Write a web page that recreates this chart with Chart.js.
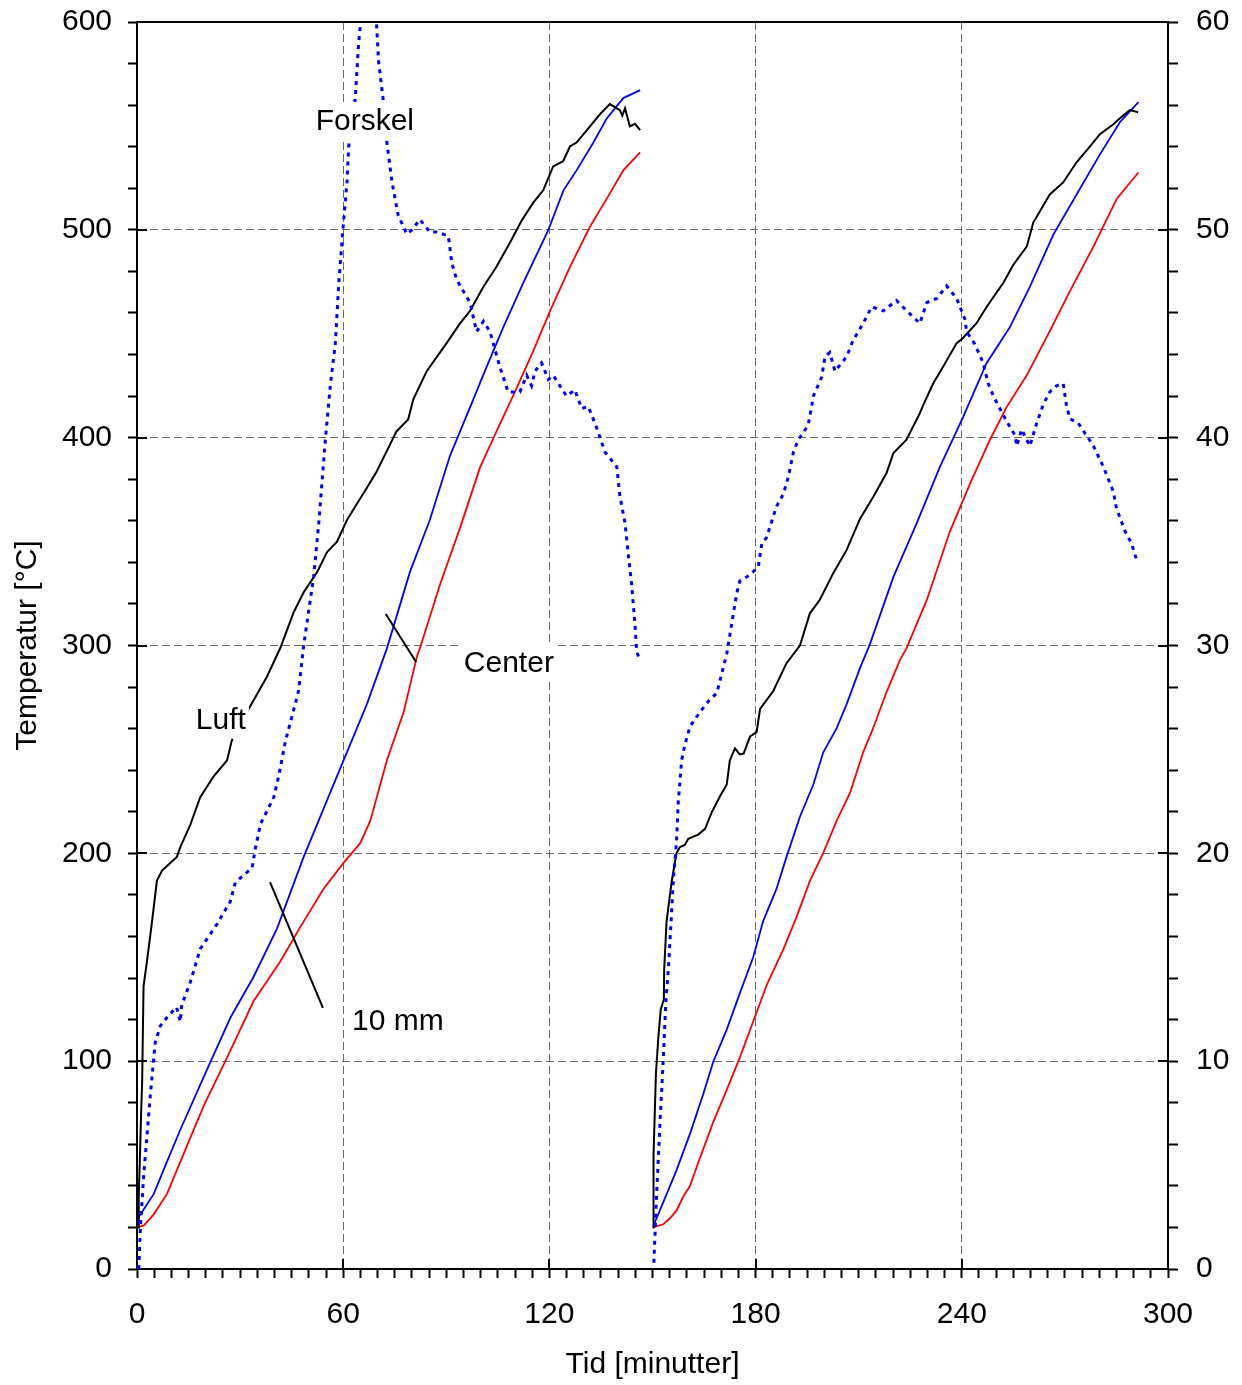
<!DOCTYPE html>
<html>
<head>
<meta charset="utf-8">
<script src="https://cdn.jsdelivr.net/npm/chart.js@4.4.1/dist/chart.umd.min.js"></script>
<style>
  html, body { margin: 0; padding: 0; background: #fff; }
  #wrap { width: 1242px; height: 1385px; position: relative; }
</style>
</head>
<body>
<div id="wrap"><canvas id="chart"></canvas></div>
<script>
// Luft (black), two tests; null = gap between tests
const luftTid = [0.3, 0.5, 0.8, 1.2, 1.5, 1.9, 2.9, 4.4, 5.8, 7.3, 9.2, 11.6, 12.6, 15.5, 18.4, 22.3, 26.2, 27.6, 32, 37.8, 41.7,
  45.6, 48.5, 52.4, 55.3, 58.2, 61.1, 64, 66.9, 69.7, 72.6, 75.5, 78.9, 80.4, 84.3, 90.1, 94, 96.9, 100.8, 104.6, 108.5,
  111.9, 115.3, 118.2, 121.1, 124, 126, 127.9, 131.8, 134.7, 137.6, 140.5, 141.2, 142, 143.4, 144.9, 146.4,
  148,
  150.2, 150.3, 151, 151.7, 152.4, 153.3, 153.4, 154.1, 155.6, 157, 158, 159.4, 160.4, 163.3, 165.3, 167.2, 169.6, 171.6,
  172.5, 174, 175.4, 176.5, 178.4, 180.3, 181.3, 185.1, 189, 192.9, 195.8, 198.7, 202.6, 206.5, 210.4, 214.3, 218.1,
  220.1, 223.9, 227.8, 228.8, 231.7, 234.6, 238.5, 240, 244.3, 247.2, 252.1, 255, 258.9, 260.8, 265.6, 269.5, 273.4,
  277.3, 280.2, 284.1, 286, 288.9, 291.3];
const luftTemp = [20, 35, 51, 75, 90, 136, 148, 167.5, 186.9, 191.7, 194.6, 198.3, 203, 213.7, 227, 237, 244.7, 254.4, 268, 285, 298.8,
  316, 325.6, 335.3, 345, 350, 360.4, 368.2, 375.9, 383.6, 393.3, 403, 408.8, 418.4, 432, 445.5, 455, 461, 472.6, 482.2, 493.8,
  504.4, 513.1, 519, 530.5, 533, 540.2, 542, 549.8, 555.6, 560.5, 557.6, 555, 558.5, 549.8, 551, 548,
  null,
  20, 55, 94, 111.4, 124.9, 129.7, 144.2, 167.4, 186.7, 200.2, 203, 204, 207, 209, 211.8, 219.6, 227.3, 233.1,
  244.7, 250.5, 247.6, 248, 256.3, 258.3, 269.5, 278, 291.5, 300, 315.5, 322, 334.8, 346, 361, 371.7, 383,
  392.6, 399, 411.8, 415.8, 426.2, 434.2, 445.5, 447.4, 455.1, 462.9, 474.5, 483.2, 491.9, 503.5, 517, 522.8, 532.5,
  540.2, 546, 550.8, 553.7, 557.6, 556.6];

// 10 mm (blue)
const mm10Tid = [0, 0.5, 4.85, 8.7, 12.6, 20.4, 27.2, 33.9, 40.7, 48.5, 54.3, 60.1, 66.9, 72.7, 79.4, 85.2, 91.1, 96.9, 101.7,
  106.6, 112.4, 119.7, 124.1, 127.9, 132.8, 136.7, 141.5, 146.4,
  148,
  150.2, 150.7, 153.6, 157, 160.9, 164.8, 167.7, 171.6, 175.4, 179.3, 182.2, 186.1, 189, 192.9, 196.8, 199.7, 203.6, 206.5,
  210.4, 213.3, 220.1, 226.8, 233.6, 240.4, 247.2, 254, 259.8, 266.6, 273.4, 280.2, 286, 291.4];
const mm10Temp = [20, 25, 36, 51.5, 67, 96, 121, 140.5, 163.7, 198.3, 221.5, 244.7, 271.8, 298.5, 335.3, 360.4, 391.4, 414.6, 433.9,
  453.2, 474.5, 500, 519, 528.6, 542, 553.6, 563.4, 567.2,
  null,
  20, 22.5, 34, 47.6, 65, 84.3, 99.8, 115.2, 132.6, 150, 167.4, 183, 198.3, 217.6, 233.1, 248.6, 260.2, 271.8,
  289.2, 300.8, 333, 358.5, 385.8, 410, 435.8, 453.2, 472.6, 497.6, 517, 536.3, 551.8, 561.4];

// Center (red)
const centerTid = [0, 2, 4.85, 8.7, 12.6, 19.4, 26.2, 33.9, 41.7, 47.5, 54.3, 60.1, 65, 67.9, 72.7, 77.6, 81.5, 82.3, 88.2, 94,
  99.8, 104.6, 109.5, 115.3, 120.2, 126, 131.8, 136.7, 141.5, 146.4,
  148,
  150.2, 153.1, 155.1, 157, 159, 160.9, 163.8, 167.7, 171.6, 175.4, 179.3, 183.2, 188.1, 191.9, 195.8, 199.7, 203.6, 207.5,
  211.3, 214.2, 218.1, 222, 223.9, 229.8, 236.5, 242.4, 248.2, 253, 258.9, 265.6, 271.5, 278.3, 285.1, 291.4];
const centerTemp = [20, 21, 26.3, 36, 51.5, 78.5, 101.7, 128.8, 148, 164.5, 183, 195.4, 205, 215.7, 244.7, 268, 295, 298.6, 329.5, 356.6,
  385.6, 403, 420.4, 441.6, 461, 482.2, 501.5, 515, 528.6, 537.3,
  null,
  20, 21.5, 24.4, 28.2, 35, 39.9, 53.4, 70.8, 86.2, 101.7, 119.1, 136.5, 153.9, 169.3, 186.7, 200.2, 215.7, 229.2,
  248.6, 260.2, 277.6, 293, 298.6, 321.8, 354.7, 377.9, 399, 414.6, 430, 451.3, 470.6, 491.9, 515, 527.6];

// Forskel (blue dotted, right axis)
const forskelTid = [0.5, 1.0, 1.9, 3.9, 5.3, 6.8, 8.7, 11.5, 12.6, 13, 15.5, 18.4, 23.3, 27.2, 28.6, 33.5, 34.4, 35.9, 39.8, 41.2,
  43.2, 45.1, 47, 48.5, 51.4, 52.9, 54.8, 56.3, 57.7, 58.7, 59.9, 61.1, 61.6, 63.5, 64.5, 66, 67.5, 68.5, 69.5, 70.3, 71.6,
  72.7, 74.2, 76, 78.5, 80, 82.3, 85.2, 87.2, 90.6, 91.6, 93, 96.9, 98.8, 100.8, 102.7, 105.6, 108, 111.4, 113.4, 114.8,
  115.8, 117.7, 119.7, 121.1, 125, 127.4, 129.4, 131.3, 133.7, 136.2, 139.6, 140.5, 142, 143, 143.9, 144.9, 145.4, 146.3,
  148,
  150.4, 151.2, 152.2, 153.1, 153.9, 154.6, 155.3, 156.05, 157, 157.5, 158.5, 159.4, 160.9, 163.8, 166.7, 168.7, 171.6,
  174.5, 175.4, 178.4, 180.8, 181.8, 183.2, 186.1, 188.1, 189.5, 191, 192.4, 195.3, 196.3, 196.8, 199.2, 200.2, 201.6,
  203.1, 206.5, 208.4, 211.3, 213.8, 217.2, 221, 224, 227.8, 229.8, 232.7, 235.6, 238.5, 240.9, 241.4, 243.8, 246.2,
  247.7, 249.2, 253, 255.5, 256, 257.4, 259.8, 261.8, 263.7, 265.6, 267.6, 269.5, 270.5, 271.5, 273.9, 278.3, 281.2,
  284.1, 285, 287.5, 289.4, 290.9];
const forskelVal = [0, 2, 4.4, 8.4, 10.9, 11.7, 12.1, 12.6, 11.9, 12.7, 13.8, 15.4, 16.6, 17.7, 18.6, 19.3, 20.2, 21.4, 22.7, 23.7,
  25.4, 26.6, 27.8, 30, 33.3, 35.9, 39.9, 42.6, 44.5, 47.4, 50, 52.3, 54, 56.3, 59, 61.5, 62.5, 62, 60.5, 58.1, 56.3,
  54.2, 52.3, 50.7, 49.8, 50, 50.5, 49.9, 49.9, 49.7, 48.4, 47.6, 46.5, 45.1, 45.6, 45.1, 43.4, 42.2, 42.2, 43, 42.5,
  43.2, 43.6, 42.8, 43, 42, 42.3, 41.4, 41.5, 40.5, 39.3, 38.6, 37.2, 35.9, 34.3, 33, 31, 29.7, 29.3,
  null,
  0.3, 3.6, 7.1, 10, 12.9, 14.4, 16.4, 18.7, 20.6, 22.5, 24.5, 25.2, 26.1, 26.8, 27.4, 27.7, 29.6,
  32.5, 33.1, 33.4, 33.8, 34.9, 35.2, 36.7, 37.3, 38.1, 39.3, 39.9, 40.6, 41.5, 42, 42.9, 43.9, 44.1,
  43.2, 43.9, 44.7, 45.5, 46.3, 46.1, 46.6, 46.1, 45.5, 46.5, 46.7, 47.3, 46.7, 45.7, 45.1, 44.5, 43.6,
  42.6, 42, 40.8, 40.1, 39.6, 40.4, 39.6, 40.7, 41.6, 42.2, 42.5, 42.6, 41.5, 40.9, 40.7, 39.6, 38.6,
  37.4, 36.6, 35.5, 34.9, 34.1];

// Annotation texts and leader lines, in data units (minutes, °C)
const labelTexts = ['Luft', 'Forskel', 'Center', '10 mm'];
const labelTid = [24.4, 66.3, 108.2, 75.9];
const labelTemp = [264.2, 552.4, 291.6, 119.3];
const leaderFrom = [[38.7, 186.2], [72.4, 315.2]];
const leaderTo = [[54.1, 125.6], [81.2, 292.1]];

const FONT = "'Liberation Sans', Arial, Helvetica, sans-serif";
Chart.defaults.font.family = FONT;
Chart.defaults.color = '#000';

function pts(tid, val) {
  return tid.map((t, i) => ({ x: t, y: val[i] }));
}

const gridColor = (step, lo, hi) => ctx => {
  const v = ctx.tick ? ctx.tick.value : null;
  if (v === null) return 'rgba(0,0,0,0)';
  return (v % step === 0 && v > lo && v < hi) ? '#6a6a6a' : 'rgba(0,0,0,0)';
};

// top frame line, inner major ticks, leaders and text boxes
const extras = {
  id: 'extras',
  afterDatasetsDraw(chart) {
    const ctx = chart.ctx;
    const a = chart.chartArea;
    const xs = chart.scales.x, ys = chart.scales.y, y1 = chart.scales.y1;
    ctx.save();
    ctx.strokeStyle = '#000';
    ctx.lineWidth = 2;
    ctx.beginPath();
    ctx.moveTo(a.left - 1, a.top);
    ctx.lineTo(a.right + 1, a.top);
    ctx.stroke();

    // inner halves of major ticks
    ctx.beginPath();
    xs.ticks.forEach(t => {
      if (t.value % 60 === 0 && t.value > 0 && t.value < 300) {
        const px = Math.round(xs.getPixelForValue(t.value));
        ctx.moveTo(px, a.bottom); ctx.lineTo(px, a.bottom - 10);
      }
    });
    ys.ticks.forEach(t => {
      if (t.value % 100 === 0 && t.value > 0 && t.value < 600) {
        const py = Math.round(ys.getPixelForValue(t.value));
        ctx.moveTo(a.left, py); ctx.lineTo(a.left + 10, py);
      }
    });
    y1.ticks.forEach(t => {
      if (t.value % 10 === 0 && t.value > 0 && t.value < 60) {
        const py = Math.round(y1.getPixelForValue(t.value));
        ctx.moveTo(a.right, py); ctx.lineTo(a.right - 10, py);
      }
    });
    ctx.stroke();

    // leader lines
    ctx.lineWidth = 2;
    ctx.beginPath();
    leaderFrom.forEach((p, i) => {
      const q = leaderTo[i];
      ctx.moveTo(xs.getPixelForValue(p[0]), ys.getPixelForValue(p[1]));
      ctx.lineTo(xs.getPixelForValue(q[0]), ys.getPixelForValue(q[1]));
    });
    ctx.stroke();

    // labels with white boxes
    ctx.font = '30px ' + FONT;
    ctx.textAlign = 'center';
    ctx.textBaseline = 'middle';
    labelTexts.forEach((txt, i) => {
      const px = xs.getPixelForValue(labelTid[i]);
      const py = ys.getPixelForValue(labelTemp[i]);
      const w = ctx.measureText(txt).width;
      ctx.fillStyle = '#fff';
      ctx.fillRect(px - w / 2 - 3, py - 19, w + 6, 38);
      ctx.fillStyle = '#000';
      ctx.fillText(txt, px, py + 1);
    });
    ctx.restore();
  }
};

new Chart(document.getElementById('chart'), {
  type: 'line',
  data: {
    datasets: [
      {
        label: 'Forskel',
        data: pts(forskelTid, forskelVal),
        yAxisID: 'y1',
        borderColor: '#0000ff',
        borderWidth: 3,
        borderDash: [4, 5],
        pointRadius: 0,
        fill: false,
        tension: 0,
        spanGaps: false
      },
      {
        label: 'Luft',
        data: pts(luftTid, luftTemp),
        yAxisID: 'y',
        borderColor: '#000000',
        borderWidth: 2,
        pointRadius: 0,
        fill: false,
        tension: 0,
        spanGaps: false
      },
      {
        label: '10 mm',
        data: pts(mm10Tid, mm10Temp),
        yAxisID: 'y',
        borderColor: '#0000ff',
        borderWidth: 1.8,
        pointRadius: 0,
        fill: false,
        tension: 0,
        spanGaps: false
      },
      {
        label: 'Center',
        data: pts(centerTid, centerTemp),
        yAxisID: 'y',
        borderColor: '#ff0000',
        borderWidth: 1.8,
        pointRadius: 0,
        fill: false,
        tension: 0,
        spanGaps: false
      }
    ]
  },
  options: {
    responsive: true,
    maintainAspectRatio: false,
    animation: false,
    events: [],
    layout: { padding: { top: 22, left: 0, right: 0, bottom: 0 } },
    plugins: {
      legend: { display: false },
      tooltip: { enabled: false },
      title: { display: false }
    },
    scales: {
      x: {
        type: 'linear',
        position: 'bottom',
        min: 0,
        max: 300,
        afterFit: s => { s.height = 116; s.paddingLeft = 0; s.paddingRight = 0; },
        ticks: {
          stepSize: 5,
          autoSkip: false,
          maxRotation: 0,
          padding: 19,
          font: { size: 30 },
          color: '#000',
          callback: v => (v % 60 === 0 ? String(v) : '')
        },
        grid: {
          color: gridColor(60, 0, 300),
          lineWidth: 1,
          tickLength: 9,
          tickColor: '#000',
          tickWidth: 2,
          tickBorderDash: [1, 0]
        },
        border: { color: '#000', width: 2, dash: [8, 4] },
        title: {
          display: true,
          text: 'Tid [minutter]',
          font: { size: 30 },
          color: '#000',
          padding: { top: 0, bottom: 2 }
        }
      },
      y: {
        type: 'linear',
        position: 'left',
        min: 0,
        max: 600,
        afterFit: s => { s.width = 137; s.paddingTop = 0; s.paddingBottom = 0; },
        ticks: {
          stepSize: 20,
          autoSkip: false,
          padding: 16,
          font: { size: 30 },
          color: '#000',
          callback: v => (v % 100 === 0 ? String(v) : '')
        },
        grid: {
          color: gridColor(100, 0, 600),
          lineWidth: 1,
          tickLength: 9,
          tickColor: '#000',
          tickWidth: 2,
          tickBorderDash: [1, 0]
        },
        border: { color: '#000', width: 2, dash: [8, 4] },
        title: {
          display: true,
          text: 'Temperatur [°C]',
          font: { size: 30 },
          color: '#000',
          padding: { top: 10, bottom: 0 }
        }
      },
      y1: {
        type: 'linear',
        position: 'right',
        min: 0,
        max: 60,
        afterFit: s => { s.width = 74; s.paddingTop = 0; s.paddingBottom = 0; },
        ticks: {
          stepSize: 2,
          autoSkip: false,
          padding: 18,
          font: { size: 30 },
          color: '#000',
          callback: v => (v % 10 === 0 ? String(v) : '')
        },
        grid: {
          drawOnChartArea: false,
          tickLength: 10,
          tickColor: '#000',
          tickWidth: 2,
          tickBorderDash: [1, 0]
        },
        border: { color: '#000', width: 2 }
      }
    }
  },
  plugins: [extras]
});
</script>
</body>
</html>
